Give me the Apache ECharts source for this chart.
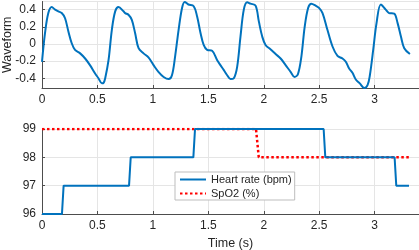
<!DOCTYPE html>
<html>
<head>
<meta charset="utf-8">
<script src="https://cdn.jsdelivr.net/npm/echarts@6/dist/echarts.min.js"></script>
<style>html,body{margin:0;padding:0;background:#fff}#c{width:419px;height:250px}</style>
</head>
<body>
<div id="c"></div>
<script>
const waveTime = [0.00,0.027,0.057,0.088,0.118,0.147,0.178,0.208,0.238,0.268,0.298,0.344,0.389,0.434,0.479,0.509,0.54,0.555,0.57,0.60,0.63,0.66,0.69,0.735,0.75,0.78,0.81,0.84,0.871,0.916,0.96,1.006,1.05,1.097,1.142,1.172,1.20,1.232,1.263,1.287,1.32,1.368,1.399,1.43,1.458,1.489,1.534,1.58,1.609,1.64,1.67,1.70,1.73,1.76,1.79,1.82,1.85,1.88,1.926,1.956,1.986,2.016,2.06,2.107,2.152,2.197,2.242,2.278,2.308,2.339,2.369,2.40,2.429,2.468,2.498,2.53,2.574,2.62,2.665,2.71,2.74,2.77,2.80,2.83,2.866,2.905,2.936,2.957,2.987,3.017,3.056,3.10,3.13,3.176,3.207,3.237,3.267,3.318];
const waveValue = [-0.21,0.125,0.36,0.43,0.40,0.38,0.36,0.30,0.145,0.008,-0.07,-0.11,-0.17,-0.25,-0.345,-0.40,-0.46,-0.455,-0.40,-0.19,0.165,0.38,0.43,0.38,0.36,0.34,0.28,0.125,-0.05,-0.11,-0.157,-0.247,-0.325,-0.385,-0.41,-0.365,-0.15,0.165,0.42,0.49,0.46,0.44,0.32,0.125,-0.012,-0.07,-0.08,-0.19,-0.247,-0.305,-0.365,-0.41,-0.40,-0.267,0.086,0.40,0.486,0.47,0.447,0.26,0.086,-0.012,-0.062,-0.118,-0.17,-0.247,-0.325,-0.385,-0.353,-0.15,0.20,0.42,0.47,0.447,0.42,0.36,0.165,-0.03,-0.14,-0.17,-0.208,-0.286,-0.337,-0.415,-0.46,-0.514,-0.48,-0.365,-0.07,0.243,0.46,0.40,0.36,0.353,0.243,0.086,-0.05,-0.118];
const hrTime = [0,0.18,0.195,0.785,0.80,1.365,1.38,2.54,2.555,3.18,3.195,3.31];
const hrValue = [96,96,97,97,98,98,99,99,98,98,97,97];
const spo2Time = [0,1.93,1.955,3.31];
const spo2Value = [99,99,98,98];
const xTicksStep = 0.5;
const waveTicksStep = 0.2;

const zip = (a, b) => a.map((v, i) => [v, b[i]]);
const FONT = 'Liberation Sans';
const TXT = '#262626';
const GRIDC = '#e5e5e5';
const AX = '#4d4d4d';

function xAxis(gridIndex, name) {
  return {
    type: 'value', gridIndex, min: 0, max: 3.4, interval: xTicksStep,
    name: name || '', nameLocation: 'middle', nameGap: 23, nameMoveOverlap: false,
    nameTextStyle: {fontFamily: FONT, fontSize: 12.5, color: TXT},
    axisLine: {show: true, onZero: false, lineStyle: {color: AX, width: 1}},
    axisTick: {show: true, inside: true, length: 3, lineStyle: {color: AX}},
    axisLabel: {fontFamily: FONT, fontSize: 12, color: TXT, margin: 6, showMaxLabel: false,
      formatter: v => (Math.abs(v / xTicksStep - Math.round(v / xTicksStep)) < 1e-6 ? String(+v.toFixed(2)) : '')},
    splitLine: {show: true, lineStyle: {color: GRIDC, width: 1}}
  };
}

const option = {
  animation: false,
  backgroundColor: '#fff',
  grid: [
    {left: 42, top: 1.5, width: 377, height: 86.5, containLabel: false, outerBoundsMode: 'none'},
    {left: 42, top: 129, width: 377, height: 85, containLabel: false, outerBoundsMode: 'none'}
  ],
  xAxis: [xAxis(0), xAxis(1, 'Time (s)')],
  yAxis: [
    {type: 'value', gridIndex: 0, min: -0.514, max: 0.495,
      name: 'Waveform', nameLocation: 'middle', nameGap: 28, nameMoveOverlap: false,
      nameTextStyle: {fontFamily: FONT, fontSize: 12.5, color: TXT},
      axisLine: {show: true, onZero: false, lineStyle: {color: AX}},
      axisTick: {show: true, inside: true, length: 3, lineStyle: {color: AX}},
      axisLabel: {fontFamily: FONT, fontSize: 12, color: TXT, margin: 6, showMinLabel: false, showMaxLabel: false,
        formatter: v => (Math.abs(v / waveTicksStep - Math.round(v / waveTicksStep)) < 1e-6 ? String(+v.toFixed(1)) : '')},
      splitLine: {show: true, lineStyle: {color: GRIDC}}
    },
    {type: 'value', gridIndex: 1, min: 96, max: 99, interval: 1,
      axisLine: {show: true, onZero: false, lineStyle: {color: AX}},
      axisTick: {show: true, inside: true, length: 3, lineStyle: {color: AX}},
      axisLabel: {fontFamily: FONT, fontSize: 12, color: TXT, margin: 6},
      splitLine: {show: true, lineStyle: {color: GRIDC}}
    }
  ],
  legend: {
    left: 175, top: 172, orient: 'vertical',
    backgroundColor: '#fff', borderColor: '#bdbdbd', borderWidth: 1, borderRadius: 0,
    padding: [2, 3, 1, 4], itemGap: 3, itemWidth: 26, itemHeight: 12,
    itemStyle: {opacity: 0},
    textStyle: {fontFamily: FONT, fontSize: 11, color: TXT},
    data: ['Heart rate (bpm)', 'SpO2 (%)']
  },
  series: [
    {type: 'line', name: 'Waveform', xAxisIndex: 0, yAxisIndex: 0, data: zip(waveTime, waveValue),
      smooth: 0.35, symbol: 'none', lineStyle: {color: '#0072BD', width: 2}, itemStyle: {color: '#0072BD'}},
    {type: 'line', name: 'SpO2 (%)', xAxisIndex: 1, yAxisIndex: 1, data: zip(spo2Time, spo2Value),
      symbol: 'none', lineStyle: {color: '#ff0000', width: 2.5, type: [2.5, 2.5]}, itemStyle: {color: '#ff0000'}, z: 2},
    {type: 'line', name: 'Heart rate (bpm)', xAxisIndex: 1, yAxisIndex: 1, data: zip(hrTime, hrValue),
      symbol: 'none', lineStyle: {color: '#0072BD', width: 2}, itemStyle: {color: '#0072BD'}, z: 3}
  ]
};
const chart = echarts.init(document.getElementById('c'), null, {renderer: 'canvas'});
chart.setOption(option);
</script>
</body>
</html>
